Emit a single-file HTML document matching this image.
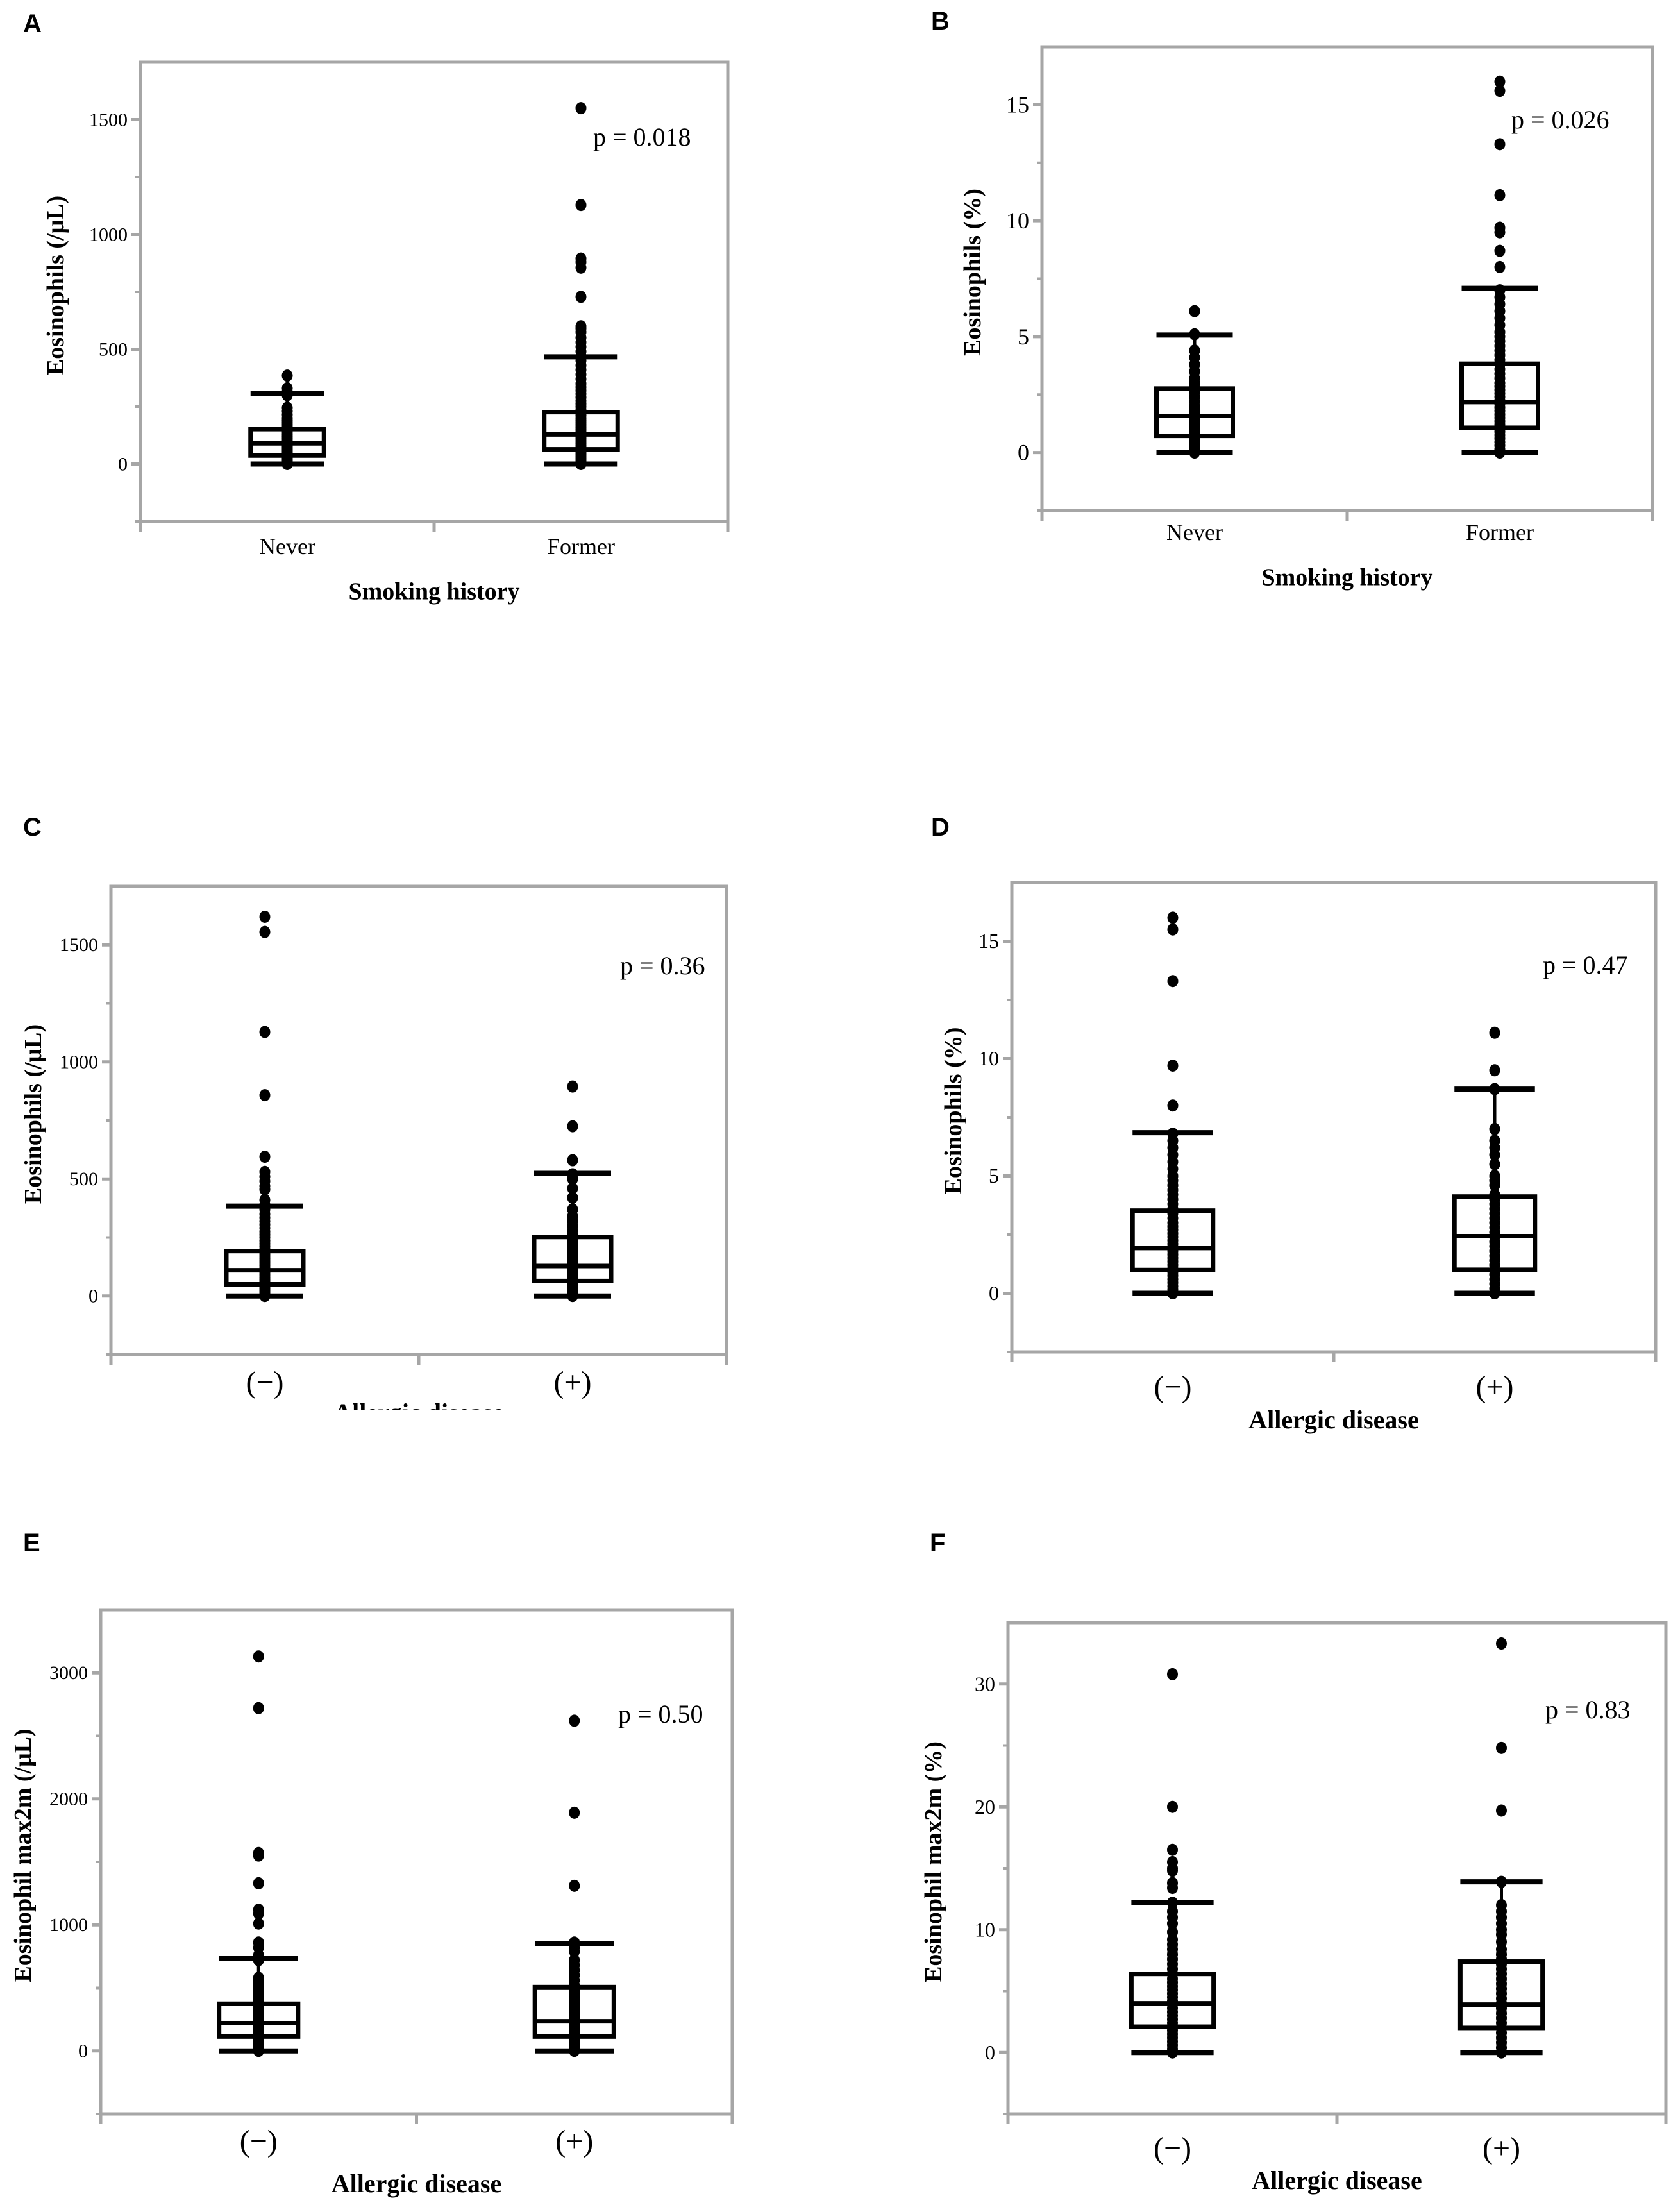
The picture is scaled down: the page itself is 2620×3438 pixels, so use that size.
<!DOCTYPE html>
<html><head><meta charset="utf-8"><style>
html,body{margin:0;padding:0;background:#fff;}
svg{display:block;}
</style></head><body>
<svg id="fig" xmlns="http://www.w3.org/2000/svg" width="2620" height="3438" viewBox="0 0 2620 3438">
<rect x="0" y="0" width="2620" height="3438" fill="#fff"/>
<defs><clipPath id="clipC"><rect x="0" y="1150" width="1310" height="1049"/></clipPath></defs>
</svg>
<script>
// ---------- DATA ----------
const smokingCategories = ['Never', 'Former'];
const allergyCategories = ['(\u2212)', '(+)'];

const aTicks = [0, 500, 1000, 1500];
const aMinor = [250, 750, 1250];
const aStats = [[0, 37, 90, 152, 308], [0, 64, 129, 226, 467]];
const aPointsNever = [0,5,10,15,20,25,30,35,40,45,50,55,60,65,70,75,80,85,90,95,100,110,120,130,140,150,160,170,180,190,200,215,230,245,300,315,330,385];
const aPointsFormer = [0,8,16,24,32,40,48,56,64,72,80,90,100,110,120,130,140,150,160,170,180,190,200,212,224,236,250,262,275,290,305,320,335,350,370,390,410,430,450,470,490,510,530,550,575,590,600,728,855,880,895,1128,1550];

const bTicks = [0, 5, 10, 15];
const bMinor = [2.5, 7.5, 12.5];
const bStats = [[0, 0.72, 1.58, 2.76, 5.07], [0, 1.07, 2.18, 3.83, 7.08]];
const bPointsNever = [0,0.1,0.2,0.3,0.4,0.5,0.6,0.7,0.8,0.9,1.0,1.1,1.2,1.3,1.4,1.5,1.6,1.7,1.8,1.9,2.0,2.2,2.4,2.6,2.8,3.0,3.2,3.5,3.8,4.1,4.4,5.1,6.1];
const bPointsFormer = [0,0.15,0.3,0.45,0.6,0.75,0.9,1.05,1.2,1.35,1.5,1.65,1.8,1.95,2.1,2.25,2.4,2.55,2.7,2.85,3.0,3.2,3.4,3.6,3.8,4.0,4.2,4.4,4.6,4.8,5.0,5.2,5.5,5.8,6.1,6.4,6.7,7.0,8.0,8.7,9.5,9.7,11.1,13.3,15.6,16.0];

const cTicks = [0, 500, 1000, 1500];
const cMinor = [250, 750, 1250];
const cStats = [[0, 50, 110, 192, 384], [0, 64, 128, 252, 524]];
const cPointsNeg = [0,8,16,24,32,40,48,56,64,72,80,90,100,110,120,130,140,150,160,170,180,190,200,212,224,236,250,262,275,290,305,320,335,350,370,390,410,455,470,490,510,530,595,858,1128,1555,1620];
const cPointsPos = [0,10,20,30,40,50,60,70,80,90,100,110,120,130,140,150,160,170,180,190,200,215,230,245,260,280,300,320,340,370,420,460,500,520,580,725,895];

const dTicks = [0, 5, 10, 15];
const dMinor = [2.5, 7.5, 12.5];
const dStats = [[0, 0.99, 1.93, 3.52, 6.84], [0, 1.0, 2.43, 4.12, 8.7]];
const dPointsNeg = [0,0.15,0.3,0.45,0.6,0.75,0.9,1.05,1.2,1.35,1.5,1.65,1.8,1.95,2.1,2.25,2.4,2.55,2.7,2.85,3.0,3.2,3.4,3.6,3.8,4.0,4.2,4.4,4.6,4.8,5.0,5.3,5.6,5.9,6.2,6.5,6.8,8.0,9.7,13.3,15.5,16.0];
const dPointsPos = [0,0.2,0.4,0.6,0.8,1.0,1.2,1.4,1.6,1.8,2.0,2.2,2.4,2.6,2.8,3.0,3.2,3.4,3.6,3.8,4.0,4.2,4.6,4.8,5.0,5.5,5.9,6.2,6.5,7.0,8.7,9.5,11.1];

const eTicks = [0, 1000, 2000, 3000];
const eMinor = [500, 1500, 2500];
const eStats = [[0, 114, 220, 374, 733], [0, 114, 235, 506, 854]];
const ePointsNeg = [0,20,40,60,80,100,120,140,160,180,200,220,240,260,280,300,320,340,360,380,400,420,440,460,480,500,520,540,560,580,720,760,820,860,1010,1090,1120,1330,1550,1570,2720,3130];
const ePointsPos = [0,20,40,60,80,100,120,140,160,180,200,220,240,260,280,300,320,340,360,380,400,420,440,460,480,500,520,560,600,640,680,720,790,820,860,1310,1890,2620];

const fTicks = [0, 10, 20, 30];
const fMinor = [5, 15, 25];
const fStats = [[0, 2.1, 4.0, 6.4, 12.2], [0, 2.0, 3.9, 7.4, 13.9]];
const fPointsNeg = [0,0.3,0.6,0.9,1.2,1.5,1.8,2.1,2.4,2.7,3.0,3.3,3.6,3.9,4.2,4.5,4.8,5.1,5.4,5.7,6.0,6.4,6.8,7.2,7.6,8.0,8.4,8.8,9.2,9.8,10.5,11.0,11.5,12.2,13.4,13.8,14.8,15.0,15.5,16.5,20.0,30.8];
const fPointsPos = [0,0.4,0.8,1.2,1.6,2.0,2.4,2.8,3.2,3.6,4.0,4.4,4.8,5.2,5.6,6.0,6.4,6.8,7.2,7.6,8.0,8.4,9.0,9.6,10.0,10.5,11.0,11.5,12.0,13.9,19.7,24.8,33.3];

// ---------- LAYOUT (pixel geometry only) ----------
const panels = [
  {id:'a', letter:'A', lx:36, ly:50, L:219, R:1135, T:97, B:813, yMin:-250, yMax:1750,
   ticks:aTicks, minor:aMinor, stats:aStats, pts:[aPointsNever, aPointsFormer], cats:smokingCategories,
   tickFont:30, catFont:36, catY:852, title:'Smoking history', titleY:922, titleFont:38,
   yTitle:'Eosinophils  (/\u03bcL)', yTitleX:87, p:'p = 0.018', px:925, py:227},
  {id:'b', letter:'B', lx:1452, ly:46, L:1625, R:2577, T:73, B:796, yMin:-2.5, yMax:17.5,
   ticks:bTicks, minor:bMinor, stats:bStats, pts:[bPointsNever, bPointsFormer], cats:smokingCategories,
   tickFont:36, catFont:36, catY:830, title:'Smoking history', titleY:900, titleFont:38,
   yTitle:'Eosinophils  (%)', yTitleX:1517, p:'p = 0.026', px:2357, py:200},
  {id:'c', letter:'C', lx:36, ly:1303, L:173, R:1133, T:1382, B:2112, yMin:-250, yMax:1750,
   ticks:cTicks, minor:cMinor, stats:cStats, pts:[cPointsNeg, cPointsPos], cats:allergyCategories,
   tickFont:30, catFont:48, catY:2155, title:'Allergic disease', titleY:2203, titleFont:40, clip:'clipC',
   yTitle:'Eosinophils  (/\u03bcL)', yTitleX:52, p:'p = 0.36', px:967, py:1519},
  {id:'d', letter:'D', lx:1452, ly:1303, L:1578, R:2582, T:1376, B:2108, yMin:-2.5, yMax:17.5,
   ticks:dTicks, minor:dMinor, stats:dStats, pts:[dPointsNeg, dPointsPos], cats:allergyCategories,
   tickFont:32, catFont:48, catY:2162, title:'Allergic disease', titleY:2214, titleFont:40,
   yTitle:'Eosinophils  (%)', yTitleX:1487, p:'p = 0.47', px:2406, py:1518},
  {id:'e', letter:'E', lx:36, ly:2419, L:157, R:1142, T:2510, B:3296, yMin:-500, yMax:3500,
   ticks:eTicks, minor:eMinor, stats:eStats, pts:[ePointsNeg, ePointsPos], cats:allergyCategories,
   tickFont:30, catFont:48, catY:3338, title:'Allergic disease', titleY:3405, titleFont:40,
   yTitle:'Eosinophil max2m  (/\u03bcL)', yTitleX:36, p:'p = 0.50', px:964, py:2686},
  {id:'f', letter:'F', lx:1450, ly:2419, L:1572, R:2598, T:2530, B:3296, yMin:-5, yMax:35,
   ticks:fTicks, minor:fMinor, stats:fStats, pts:[fPointsNeg, fPointsPos], cats:allergyCategories,
   tickFont:32, catFont:48, catY:3349, title:'Allergic disease', titleY:3400, titleFont:40,
   yTitle:'Eosinophil max2m  (%)', yTitleX:1456, p:'p = 0.83', px:2410, py:2679}
];

const NS = 'http://www.w3.org/2000/svg';
const svg = document.getElementById('fig');
const GRAY = '#a6a6a6';
const SERIF = '"Liberation Serif", serif';

function mk(tag, attrs, parent) {
  const el = document.createElementNS(NS, tag);
  for (const k in attrs) el.setAttribute(k, attrs[k]);
  parent.appendChild(el);
  return el;
}

panels.forEach(function (P) {
  const g = mk('g', {}, svg);
  
  
  const yScale = function (v) { return P.B - (v - P.yMin) / (P.yMax - P.yMin) * (P.B - P.T); };
  const band = (P.R - P.L) / P.cats.length;
  const xScale = function (i) { return P.L + band * (i + 0.5); };
  const boxW = band * 0.25;

  const letter = mk('text', {x:P.lx, y:P.ly, 'font-family':'"Liberation Sans", sans-serif', 'font-weight':'bold', 'font-size':40, fill:'#000'}, g);
  letter.textContent = P.letter;
  
  

  const frame = mk('rect', {x:P.L, y:P.T, width:P.R - P.L, height:P.B - P.T, fill:'none', stroke:GRAY, 'stroke-width':5}, g);
  
  

  for (let i = 0; i <= P.cats.length; i++) {
    const x = P.L + band * i;
    const t = mk('line', {x1:x, x2:x, y1:P.B, y2:P.B + 16, stroke:GRAY, 'stroke-width':5}, g);
    
    
  }

  P.ticks.forEach(function (v) {
    const y = yScale(v);
    const t = mk('line', {x1:P.L - 14, x2:P.L, y1:y, y2:y, stroke:GRAY, 'stroke-width':5}, g);
    
    
    const lab = mk('text', {x:P.L - 20, y:y + P.tickFont * 0.33, 'text-anchor':'end', 'font-family':SERIF, 'font-size':P.tickFont, fill:'#000'}, g);
    lab.textContent = String(v);
    
    
  });
  P.minor.forEach(function (v) {
    const y = yScale(v);
    const t = mk('line', {x1:P.L - 8, x2:P.L, y1:y, y2:y, stroke:GRAY, 'stroke-width':4}, g);
    
    
  });
  mk('line', {x1:P.L - 8, x2:P.L, y1:yScale(P.yMin), y2:yScale(P.yMin), stroke:GRAY, 'stroke-width':4}, g);

  P.stats.forEach(function (s, i) {
    const cx = xScale(i);
    const bg = mk('g', {}, g);
    
    
    mk('line', {x1:cx, x2:cx, y1:yScale(s[0]), y2:yScale(s[4]), stroke:'#000', 'stroke-width':5}, bg);
    const c1 = mk('line', {x1:cx - boxW / 2, x2:cx + boxW / 2, y1:yScale(s[0]), y2:yScale(s[0]), stroke:'#000', 'stroke-width':8}, bg);
    
    
    const c2 = mk('line', {x1:cx - boxW / 2, x2:cx + boxW / 2, y1:yScale(s[4]), y2:yScale(s[4]), stroke:'#000', 'stroke-width':8}, bg);
    
    
    const r = mk('rect', {x:cx - boxW / 2, y:yScale(s[3]), width:boxW, height:yScale(s[1]) - yScale(s[3]), fill:'#fff', stroke:'#000', 'stroke-width':7}, bg);
    
    
    const m = mk('line', {x1:cx - boxW / 2, x2:cx + boxW / 2, y1:yScale(s[2]), y2:yScale(s[2]), stroke:'#000', 'stroke-width':7}, bg);
    
    
  });

  P.pts.forEach(function (arr, i) {
    const cx = xScale(i);
    arr.forEach(function (v) {
      const d = mk('ellipse', {cx:cx, cy:yScale(v), rx:8.5, ry:9.5, fill:'#000'}, g);
      
      
    });
  });

  P.cats.forEach(function (c, i) {
    const t = mk('text', {x:xScale(i), y:P.catY + P.catFont * 0.33, 'text-anchor':'middle', 'font-family':SERIF, 'font-size':P.catFont, fill:'#000'}, g);
    t.textContent = c;
    
    
  });

  const xtAttrs = {x:(P.L + P.R) / 2, y:P.titleY + P.titleFont * 0.33, 'text-anchor':'middle', 'font-family':SERIF, 'font-weight':'bold', 'font-size':P.titleFont, fill:'#000'};
  if (P.clip) xtAttrs['clip-path'] = 'url(#' + P.clip + ')';
  const xTitle = mk('text', xtAttrs, g);
  xTitle.textContent = P.title;
  
  

  const yc = (P.T + P.B) / 2 - 10;
  const yTitle = mk('text', {x:P.yTitleX + 12, y:yc, 'text-anchor':'middle', 'font-family':SERIF, 'font-weight':'bold', 'font-size':38, fill:'#000', transform:'rotate(-90 ' + (P.yTitleX + 12) + ' ' + yc + ')'}, g);
  yTitle.textContent = P.yTitle;
  
  

  const pv = mk('text', {x:P.px, y:P.py, 'font-family':SERIF, 'font-size':40, fill:'#000'}, g);
  pv.textContent = P.p;
  
  
});
</script>
</body></html>
